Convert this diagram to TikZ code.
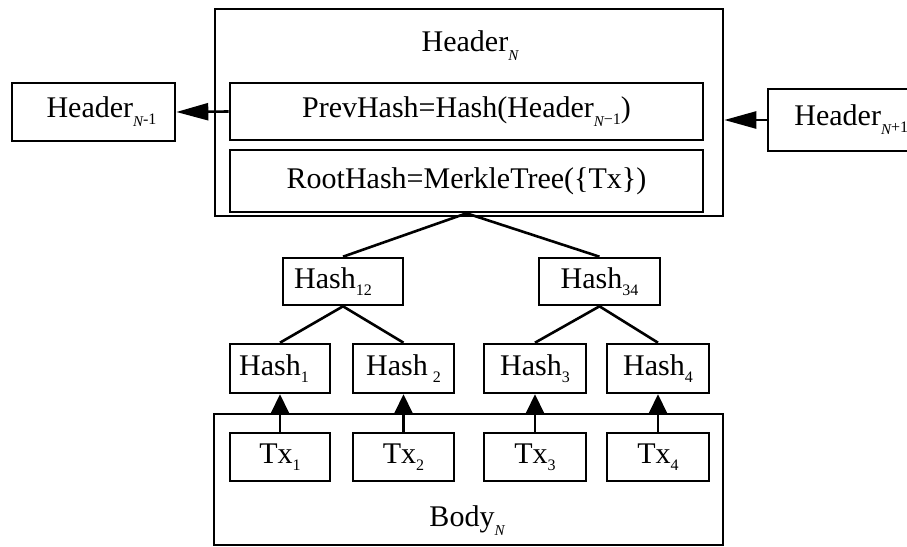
\documentclass[tikz,border=0pt]{standalone}
\usepackage{fontspec}
\setmainfont{Liberation Serif}
\usetikzlibrary{arrows.meta}
\newcommand\lsub[1]{\raisebox{-3.5pt}{\fontsize{8}{8}\selectfont #1}}
\newcommand\isub[1]{\raisebox{-4.5pt}{\fontsize{7.5}{8}\selectfont\itshape #1}}
\begin{document}
\begin{tikzpicture}[x=0.5pt,y=-0.5pt,
  box/.style={draw, line width=1.3pt, rectangle, inner sep=0pt},
  bw/.style={minimum width=#1*0.5pt},
  bh/.style={minimum height=#1*0.5pt},
  lbl/.style={inner sep=0pt, font=\fontsize{15}{18}\selectfont},
  lnk/.style={line width=1.3pt},
  harr/.style={line width=1.3pt, -{Triangle[length=16pt,width=8.5pt]}},
  varr/.style={line width=1.3pt, -{Triangle[length=9.5pt,width=9pt]}}]
\useasboundingbox (0,0) rectangle (907,547);
\clip (0,0) rectangle (907,547);
% header block
\node[box, bw=508, bh=207] (hdrN) at (469,112.5) {};
\node[lbl] (hdrNt) at (470,46) {Header\isub{N}};
\node[box, lbl, bw=473, bh=57] (prev) at (466.5,111.5) {PrevHash=Hash(Header\isub{N}\lsub{−1})};
\node[box, lbl, bw=473, bh=62] (root) at (466.5,181) {RootHash=MerkleTree(\{Tx\})};
% neighbouring headers
\node[box, lbl, bw=163, bh=58] (hm1) at (93.5,112) {\hspace*{8pt}Header\isub{N}\lsub{-1}};
\node[box, bw=300, bh=62] (hp1) at (918,120) {};
\node[lbl, anchor=west] (hp1t) at (794,120) {Header\isub{N}\lsub{+1}};
\draw[harr] (prev.west) -- (hm1.east);
\draw[harr] (hp1.west) -- (hp1.west -| hdrN.east);
% body block
\node[box, bw=509, bh=131] (body) at (468.5,479.5) {};
\node[lbl] (bodyt) at (467,521) {Body\isub{N}};
% tree
\node[box, lbl, bw=120, bh=47] (h12) at (343,281.5) {Hash\lsub{12}\hspace*{10pt}};
\node[box, lbl, bw=121, bh=47] (h34) at (599.5,281.5) {Hash\lsub{34}};
\node[box, lbl, bw=100, bh=49] (h1) at (280,368.5) {Hash\lsub{1}\hspace*{6pt}};
\node[box, lbl, bw=101, bh=49] (h2) at (403.5,368.5) {Hash\,\lsub{2}};
\node[box, lbl, bw=102, bh=49] (h3) at (535,368.5) {Hash\lsub{3}};
\node[box, lbl, bw=102, bh=49] (h4) at (658,368.5) {Hash\lsub{4}};
\node[box, lbl, bw=100, bh=48] (t1) at (280,457) {Tx\lsub{1}};
\node[box, lbl, bw=101, bh=48] (t2) at (403.5,457) {Tx\lsub{2}};
\node[box, lbl, bw=102, bh=48] (t3) at (535,457) {Tx\lsub{3}};
\node[box, lbl, bw=102, bh=48] (t4) at (658,457) {Tx\lsub{4}};
\draw[lnk] (h12.north) -- (root.south) -- (h34.north);
\draw[lnk] (h1.north) -- (h12.south) -- (h2.north);
\draw[lnk] (h3.north) -- (h34.south) -- (h4.north);
\foreach \i in {1,2,3,4} \draw[varr] (t\i.north) -- (h\i.south);
\end{tikzpicture}
\end{document}
